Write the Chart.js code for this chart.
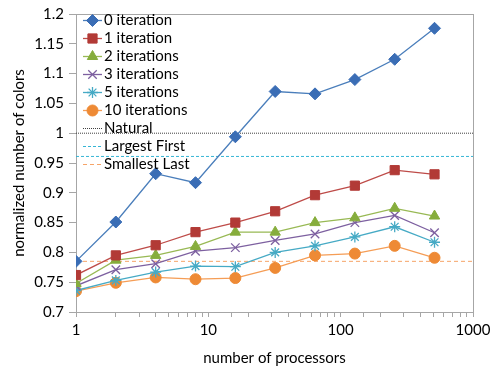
<!DOCTYPE html>
<html>
<head>
<meta charset="utf-8">
<script src="https://cdn.jsdelivr.net/npm/chart.js@4/dist/chart.umd.min.js"></script>
<style>
  html, body { margin: 0; padding: 0; background: #fff; }
  #wrap { width: 498px; height: 374px; }
</style>
</head>
<body>
<div id="wrap"><canvas id="chart" width="498" height="374"></canvas></div>
<script>
// data
const processors = [1, 2, 4, 8, 16, 32, 64, 128, 256, 512];
const iter0  = [0.785, 0.851, 0.932, 0.917, 0.994, 1.070, 1.066, 1.090, 1.124, 1.176];
const iter1  = [0.762, 0.795, 0.812, 0.834, 0.850, 0.869, 0.896, 0.912, 0.938, 0.931];
const iter2  = [0.748, 0.787, 0.795, 0.810, 0.834, 0.834, 0.850, 0.858, 0.874, 0.861];
const iter3  = [0.744, 0.771, 0.781, 0.802, 0.808, 0.820, 0.831, 0.850, 0.862, 0.833];
const iter5  = [0.736, 0.753, 0.767, 0.777, 0.776, 0.800, 0.811, 0.826, 0.843, 0.817];
const iter10 = [0.735, 0.749, 0.758, 0.755, 0.757, 0.774, 0.795, 0.798, 0.811, 0.791];
const xRange = [1, 1000];
const natural = 1.0;
const largestFirst = 0.961;
const smallestLast = 0.785;

const FONT = "Lato, 'Open Sans', sans-serif";
const FS = 15;

const pts = ys => processors.map((p, i) => ({ x: p, y: ys[i] }));
const hline = v => xRange.map(x => ({ x: x, y: v }));

function series(label, ys, line, fill, style, radius) {
    return {
        label: label,
        data: pts(ys),
        borderColor: line,
        borderWidth: 1.3,
        pointStyle: style,
        pointRadius: radius,
        pointBackgroundColor: fill,
        pointBorderColor: (style === 'crossRot' || style === 'star') ? line : fill,
        pointBorderWidth: (style === 'crossRot' || style === 'star') ? 1.3 : 1,
        tension: 0
    };
}

function refLine(label, v, color, dash) {
    return {
        label: label,
        data: hline(v),
        borderColor: color,
        borderWidth: 1,
        borderDash: dash,
        pointRadius: 0,
        pointStyle: false
    };
}

// border round the plot area
const frame = {
    id: 'frame',
    beforeDatasetsDraw(chart) {
        const a = chart.chartArea, ctx = chart.ctx;
        ctx.save();
        ctx.strokeStyle = '#a6a6a6';
        ctx.lineWidth = 1;
        ctx.strokeRect(a.left + 0.5, a.top + 0.5, a.right - a.left, a.bottom - a.top);
        ctx.restore();
    }
};

// legend inside the plot, line sample with marker like Excel
const innerLegend = {
    id: 'innerLegend',
    afterDraw(chart) {
        const ctx = chart.ctx;
        const x0 = 83, x1 = 102, tx = 104;
        let y = 20.5;
        ctx.save();
        ctx.font = FS + "px " + FONT;
        ctx.textBaseline = 'middle';
        chart.data.datasets.forEach(ds => {
            ctx.strokeStyle = ds.borderColor;
            ctx.lineWidth = ds.borderWidth;
            ctx.setLineDash(ds.borderDash || []);
            ctx.beginPath();
            ctx.moveTo(x0, y);
            ctx.lineTo(x1, y);
            ctx.stroke();
            ctx.setLineDash([]);
            if (ds.pointRadius > 0) {
                ctx.fillStyle = ds.pointBackgroundColor;
                ctx.strokeStyle = ds.pointBorderColor;
                ctx.lineWidth = ds.pointBorderWidth;
                Chart.helpers.drawPoint(ctx, {
                    pointStyle: ds.pointStyle, radius: ds.pointRadius,
                    rotation: 0, borderWidth: ds.pointBorderWidth
                }, (x0 + x1) / 2, y);
            }
            ctx.fillStyle = '#000';
            ctx.fillText(ds.label, tx, y);
            y += 18;
        });
        ctx.restore();
    }
};

new Chart(document.getElementById('chart'), {
    type: 'line',
    data: {
        datasets: [
            series('0 iteration', iter0, '#4a7ebb', '#3a6db5', 'rectRot', 6),
            series('1 iteration', iter1, '#be4b48', '#b23a36', 'rect', 6.5),
            series('2 iterations', iter2, '#98b954', '#86ad3c', 'triangle', 6),
            series('3 iterations', iter3, '#7d60a0', '#7d60a0', 'crossRot', 6),
            series('5 iterations', iter5, '#46aac5', '#46aac5', 'star', 5.5),
            series('10 iterations', iter10, '#f59d56', '#ee8a35', 'circle', 5.5),
            refLine('Natural', natural, '#404040', [1, 1]),
            refLine('Largest First', largestFirst, '#35b5d5', [3, 2]),
            refLine('Smallest Last', smallestLast, '#f6a468', [4, 3])
        ]
    },
    options: {
        responsive: false,
        animation: false,
        devicePixelRatio: 1,
        layout: { padding: { left: 6, right: 25, top: 14, bottom: 4 } },
        plugins: {
            legend: { display: false },
            tooltip: { enabled: false }
        },
        scales: {
            x: {
                type: 'logarithmic',
                min: xRange[0],
                max: xRange[1],
                afterFit: s => { s.height = 374 - 312 - 4; },
                grid: { drawOnChartArea: false, color: '#a6a6a6', tickLength: 5 },
                border: { color: '#a6a6a6' },
                ticks: {
                    autoSkip: false,
                    maxRotation: 0,
                    padding: 4,
                    color: '#000',
                    font: { family: FONT, size: FS },
                    callback: v => [1, 10, 100, 1000].includes(v) ? String(v) : ''
                },
                title: {
                    display: true,
                    text: 'number of processors',
                    color: '#000',
                    font: { family: FONT, size: FS },
                    padding: { top: 0, bottom: 3 }
                }
            },
            y: {
                min: 0.7,
                max: 1.2,
                afterFit: s => { s.width = 76 - 6; },
                grid: { drawOnChartArea: false, color: '#a6a6a6', tickLength: 7 },
                border: { color: '#a6a6a6' },
                ticks: {
                    stepSize: 0.05,
                    padding: 5,
                    color: '#000',
                    font: { family: FONT, size: FS },
                    callback: v => String(+v.toFixed(2))
                },
                title: {
                    display: true,
                    text: 'normalized number of colors',
                    color: '#000',
                    font: { family: FONT, size: FS },
                    padding: { top: 4, bottom: 0 }
                }
            }
        }
    },
    plugins: [frame, innerLegend]
});
</script>
</body>
</html>
